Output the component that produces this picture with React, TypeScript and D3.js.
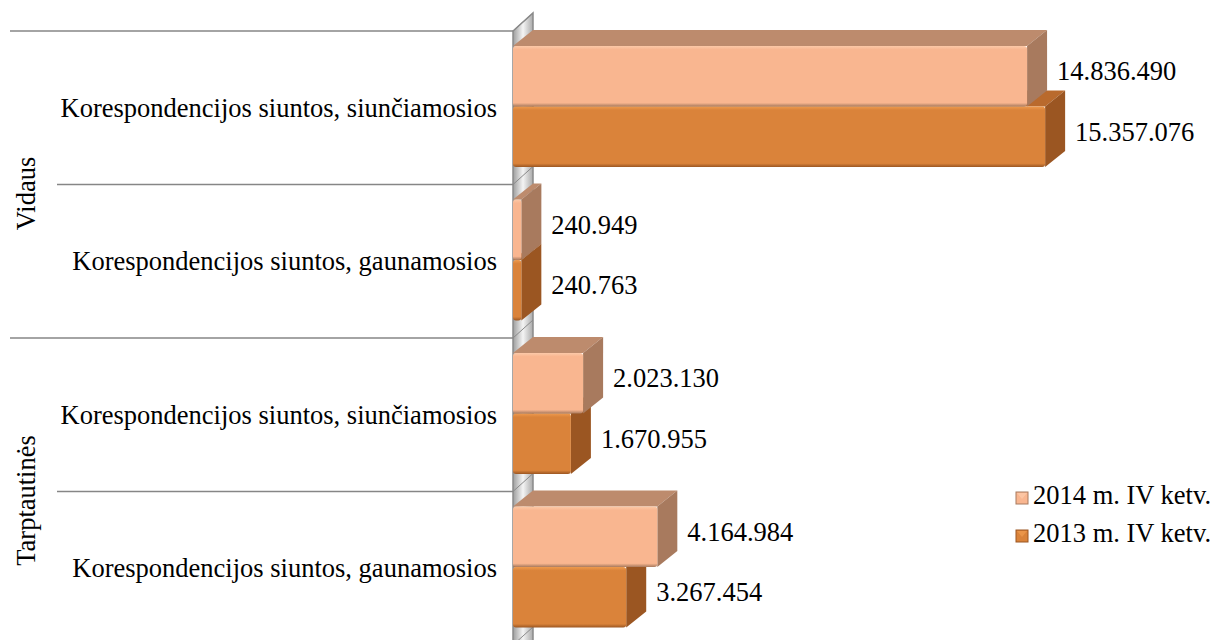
import React from 'react'
import * as d3 from 'd3'

const groups = ['Vidaus', 'Tarptautinės']
const categories = [
  'Korespondencijos siuntos, siunčiamosios',
  'Korespondencijos siuntos, gaunamosios',
  'Korespondencijos siuntos, siunčiamosios',
  'Korespondencijos siuntos, gaunamosios'
]
const categoryGroup = [0, 0, 1, 1]
const seriesNames = ['2014 m. IV ketv.', '2013 m. IV ketv.']
const values2014 = [14836490, 240949, 2023130, 4164984]
const values2013 = [15357076, 240763, 1670955, 3267454]
const seriesValues = [values2014, values2013]

const seriesColors = [
  { front: '#F9B690', top: '#BD8B6D', side: '#A87A5E', edge: '#FCC9A8' },
  { front: '#DA833A', top: '#B96A2D', side: '#9B5622', edge: '#EE9A4E' }
]

const fmt = (v: number) => d3.format(',')(v).replace(/,/g, '.')

const W = 1217
const H = 640
const FONT = '"Liberation Serif", "Times New Roman", serif'
const FS = 26.5
const DX = 20
const DY = 16

const App: React.FC = () => {
  const x = d3.scaleLinear().domain([0, 18000000]).range([513, 513 + 18 * 34.65])
  const yRow = d3.scaleBand<number>().domain(d3.range(categories.length)).range([31, 645])
  const ySeries = d3.scaleBand<number>().domain([0, 1]).range([15, 136])
  const x0 = x(0)

  const rowLines = d3.range(categories.length + 1).map(i => ({
    y: i < categories.length ? yRow(i)! : 645,
    group: i % 2 === 0
  }))

  const bar = (ci: number, si: number) => {
    const v = seriesValues[si][ci]
    const c = seriesColors[si]
    const yt = yRow(ci)! + ySeries(si)!
    const h = ySeries.bandwidth()
    const x1 = x(v)
    return (
      <g key={`b-${ci}-${si}`}>
        <polygon
          points={`${x0},${yt} ${x0 + DX},${yt - DY} ${x1 + DX},${yt - DY} ${x1},${yt}`}
          fill={c.top}
        />
        <polygon
          points={`${x1},${yt} ${x1 + DX},${yt - DY} ${x1 + DX},${yt + h - DY} ${x1},${yt + h}`}
          fill={c.side}
        />
        <rect x={x0} y={yt} width={Math.max(x1 - x0, 1)} height={h} rx={3} fill={`url(#front-${si})`} />
      </g>
    )
  }

  return (
    <svg width={W} height={H} style={{ position: 'absolute', left: 0, top: 0, background: '#fff' }}>
      <defs>
        <linearGradient id="wall-grad" x1="0" x2="1" y1="0" y2="0">
          <stop offset="0%" stopColor="#9d9d9d" />
          <stop offset="50%" stopColor="#f4f4f4" />
          <stop offset="100%" stopColor="#a9a9a9" />
        </linearGradient>
        {seriesColors.map((c, i) => (
          <linearGradient key={i} id={`front-${i}`} x1="0" x2="0" y1="0" y2="1">
            <stop offset="0%" stopColor={c.edge} />
            <stop offset="6%" stopColor={c.front} />
            <stop offset="94%" stopColor={c.front} />
            <stop offset="100%" stopColor={c.side} />
          </linearGradient>
        ))}
      </defs>

      {/* side wall */}
      <polygon
        points={`${x0},31 ${x0 + DX},${31 - 18} ${x0 + DX},${H + 20} ${x0},${H + 40}`}
        fill="url(#wall-grad)"
        stroke="#8a8a8a"
        strokeWidth={1.5}
      />
      {rowLines.map((l, i) => (
        <line key={`w-${i}`} x1={x0} x2={x0 + DX} y1={l.y} y2={l.y - 18} stroke="#8a8a8a" strokeWidth={1} />
      ))}

      {/* category separators */}
      {rowLines.map((l, i) => (
        <line key={`s-${i}`} x1={l.group ? 10 : 57} x2={x0} y1={l.y} y2={l.y} stroke="#868686" strokeWidth={1.5} />
      ))}

      {/* bars: dark series first so the light one overlaps */}
      {categories.map((_, ci) => [bar(ci, 1), bar(ci, 0)])}

      {/* value labels */}
      {categories.map((_, ci) =>
        seriesValues.map((vals, si) => (
          <text
            key={`v-${ci}-${si}`}
            x={x(vals[ci]) + DX + 10}
            y={yRow(ci)! + ySeries(si)! + ySeries.bandwidth() / 2 - 2}
            dominantBaseline="middle"
            fontFamily={FONT}
            fontSize={FS}
            fill="#000"
          >
            {fmt(vals[ci])}
          </text>
        ))
      )}

      {/* category labels */}
      {categories.map((c, ci) => (
        <text
          key={`c-${ci}`}
          x={497}
          y={yRow(ci)! + yRow.bandwidth() / 2 + 3}
          textAnchor="end"
          dominantBaseline="middle"
          fontFamily={FONT}
          fontSize={FS}
        >
          {c}
        </text>
      ))}

      {/* group labels */}
      {groups.map((g, gi) => {
        const idx = categoryGroup.map((v, i) => (v === gi ? i : -1)).filter(i => i >= 0)
        const top = yRow(idx[0])!
        const bottom = yRow(idx[idx.length - 1])! + yRow.bandwidth()
        const cy = (top + bottom) / 2 + 9
        return (
          <text
            key={`g-${gi}`}
            transform={`translate(29,${cy}) rotate(-90)`}
            textAnchor="middle"
            dominantBaseline="middle"
            fontFamily={FONT}
            fontSize={FS}
          >
            {g}
          </text>
        )
      })}

      {/* legend */}
      {seriesNames.map((s, si) => (
        <g key={`l-${si}`} transform={`translate(1016,${498 + si * 38})`}>
          <rect x={0} y={-6} width={12} height={12} fill={seriesColors[si].front} stroke={seriesColors[si].side} strokeWidth={1} />
          <polygon points="1,-5 11,-5 6,1" fill={seriesColors[si].edge} opacity={0.8} />
          <text x={17} y={0} dominantBaseline="middle" fontFamily={FONT} fontSize={FS}>
            {s}
          </text>
        </g>
      ))}
    </svg>
  )
}

export default App
